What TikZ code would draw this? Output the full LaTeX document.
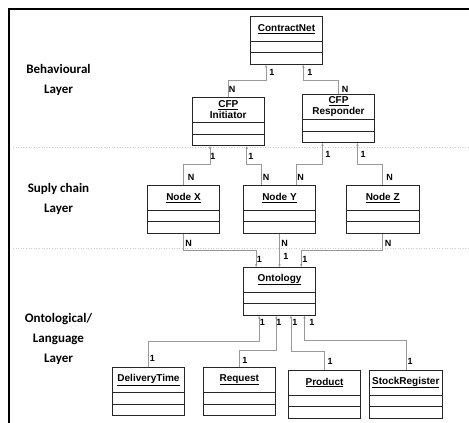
\documentclass[tikz,border=0pt]{standalone}
\usepackage{fontspec}
\setmainfont{Liberation Sans}
\newfontfamily\layerfont{Carlito}
\usepackage{tikz}
\usetikzlibrary{calc,arrows.meta}

\tikzset{
  umlbox/.style={draw=black!85, line width=0.8pt, minimum width=72.5pt, minimum height=48pt, inner sep=0pt, anchor=north,
    path picture={
      \draw[black!85, line width=0.8pt] ([yshift=-24.5pt]path picture bounding box.north west) -- ([yshift=-24.5pt]path picture bounding box.north east);
      \draw[black!85, line width=0.8pt] ([yshift=-36.3pt]path picture bounding box.north west) -- ([yshift=-36.3pt]path picture bounding box.north east);
    }},
  umltitle/.style={font=\fontsize{10}{11}\selectfont\bfseries, align=center, inner sep=0pt},
  link/.style={draw=black!40, line width=0.6pt, -{Stealth[length=3pt,width=2.4pt]}},
  mult/.style={font=\fontsize{9}{9}\selectfont\bfseries, inner sep=0pt},
  layer/.style={font=\layerfont\fontsize{13}{20}\selectfont\bfseries, align=center},
  sep/.style={draw=black!20, dotted, line width=0.6pt}
}

\begin{document}
\begin{tikzpicture}[x=1pt,y=-1pt]
  \useasboundingbox (0,0) rectangle (469,423);
  \draw[line width=2.2pt] (8.7,423) -- (8.7,8.7) -- (469,8.7);
  \draw[sep] (13,147.5) -- (469,147.5);
  \draw[sep] (13,248) -- (469,248);

  % layers
  \node[layer] (beh) at (58.5,80) {Behavioural\\Layer};
  \node[layer] (sup) at (58.5,199.3) {Suply chain\\Layer};
  \node[layer] (ont) at (58.5,339) {Ontological/\\Language\\Layer};

  % classes
  \node[umlbox] (cnet) at (286.5,16) {};
  \node[umlbox] (ini) at (228.3,97.3) {};
  \node[umlbox] (resp) at (338.5,94.3) {};
  \node[umlbox] (nx) at (183.5,185) {};
  \node[umlbox] (ny) at (279.5,185) {};
  \node[umlbox] (nz) at (382.7,185) {};
  \node[umlbox] (onto) at (279.5,267) {};
  \node[umlbox] (dt) at (148.5,367.3) {};
  \node[umlbox] (req) at (239.3,367.3) {};
  \node[umlbox] (prod) at (324.5,370) {};
  \node[umlbox] (sr) at (405.8,370) {};

  \node[umltitle] (cnet-t) at ([yshift=-13pt]cnet.north) {\underline{ContractNet}};
  \node[umltitle] (ini-t) at ([yshift=-12.3pt]ini.north) {\underline{CFP}\\Initiator};
  \node[umltitle] (resp-t) at ([yshift=-12.3pt]resp.north) {\underline{CFP}\\Responder};
  \node[umltitle] (nx-t) at ([yshift=-13pt]nx.north) {\underline{Node X}};
  \node[umltitle] (ny-t) at ([yshift=-13pt]ny.north) {\underline{Node Y}};
  \node[umltitle] (nz-t) at ([yshift=-13pt]nz.north) {\underline{Node Z}};
  \node[umltitle] (onto-t) at ([yshift=-12.5pt]onto.north) {\underline{Ontology}};
  \node[umltitle] (dt-t) at ([yshift=-12.5pt]dt.north) {\underline{DeliveryTime}};
  \node[umltitle] (req-t) at ([yshift=-12.5pt]req.north) {\underline{Request}};
  \node[umltitle] (prod-t) at ([yshift=-12.5pt]prod.north) {\underline{Product}};
  \node[umltitle] (sr-t) at ([yshift=-12.5pt]sr.north) {\underline{StockRegister}};

  % behavioural links
  \draw[link] (ini.north) -- ++(0,-16.6) -| ([xshift=-20.5pt]cnet.south);
  \draw[link] (resp.north) -- ++(0,-13.6) -| ([xshift=16.8pt]cnet.south);
  \node[mult] (m1) at (232,89) {N};
  \node[mult] (m2) at (272,72.5) {1};
  \node[mult] (m3) at (345,89) {N};
  \node[mult] (m4) at (310,72.5) {1};

  % supply chain links
  \draw[link] (nx.north) -- ++(0,-20.7) -| ([xshift=-18.3pt]ini.south);
  \draw[link] ([xshift=-17.8pt]ny.north) -- ++(0,-20.7) -| ([xshift=18.4pt]ini.south);
  \draw[link] ([xshift=16.5pt]ny.north) -- ++(0,-20.7) -| ([xshift=-16pt]resp.south);
  \draw[link] (nz.north) -- ++(0,-20.7) -| ([xshift=19pt]resp.south);
  \node[mult] (m5) at (213,156) {1};
  \node[mult] (m6) at (251,156) {1};
  \node[mult] (m7) at (328,154) {1};
  \node[mult] (m8) at (363,154) {1};
  \node[mult] (m9) at (191,177) {N};
  \node[mult] (m10) at (266,177) {N};
  \node[mult] (m11) at (300.5,177) {N};
  \node[mult] (m12) at (389.5,177) {N};

  % links to the ontology
  \draw[link] (nx.south) -- ++(0,16.7) -| ([xshift=-23.3pt]onto.north);
  \draw[link] (ny.south) -- (ny.south |- onto.north);
  \draw[link] (nz.south) -- ++(0,16.7) -| ([xshift=21.7pt]onto.north);
  \node[mult] (m13) at (188.5,243.5) {N};
  \node[mult] (m14) at (284.5,243.5) {N};
  \node[mult] (m15) at (388,243.5) {N};
  \node[mult] (m16) at (259.5,259) {1};
  \node[mult] (m17) at (286,256.5) {1};
  \node[mult] (m18) at (305,259) {1};

  % ontological links
  \draw[link] (dt.north) -- ++(0,-26.3) -| ([xshift=-20.3pt]onto.south);
  \draw[link] (req.north) -- ++(0,-17.3) -| ([xshift=-3.3pt]onto.south);
  \draw[link] (prod.north) -- ++(0,-18.3) -| ([xshift=11.4pt]onto.south);
  \draw[link] (sr.north) -- ++(0,-30) -| ([xshift=25pt]onto.south);
  \node[mult] (m19) at (262.5,322) {1};
  \node[mult] (m20) at (279,322) {1};
  \node[mult] (m21) at (295,322) {1};
  \node[mult] (m22) at (312,322) {1};
  \node[mult] (m23) at (152.5,358) {1};
  \node[mult] (m24) at (245,360) {1};
  \node[mult] (m25) at (330,361.5) {1};
  \node[mult] (m26) at (410,361.5) {1};
\end{tikzpicture}
\end{document}
